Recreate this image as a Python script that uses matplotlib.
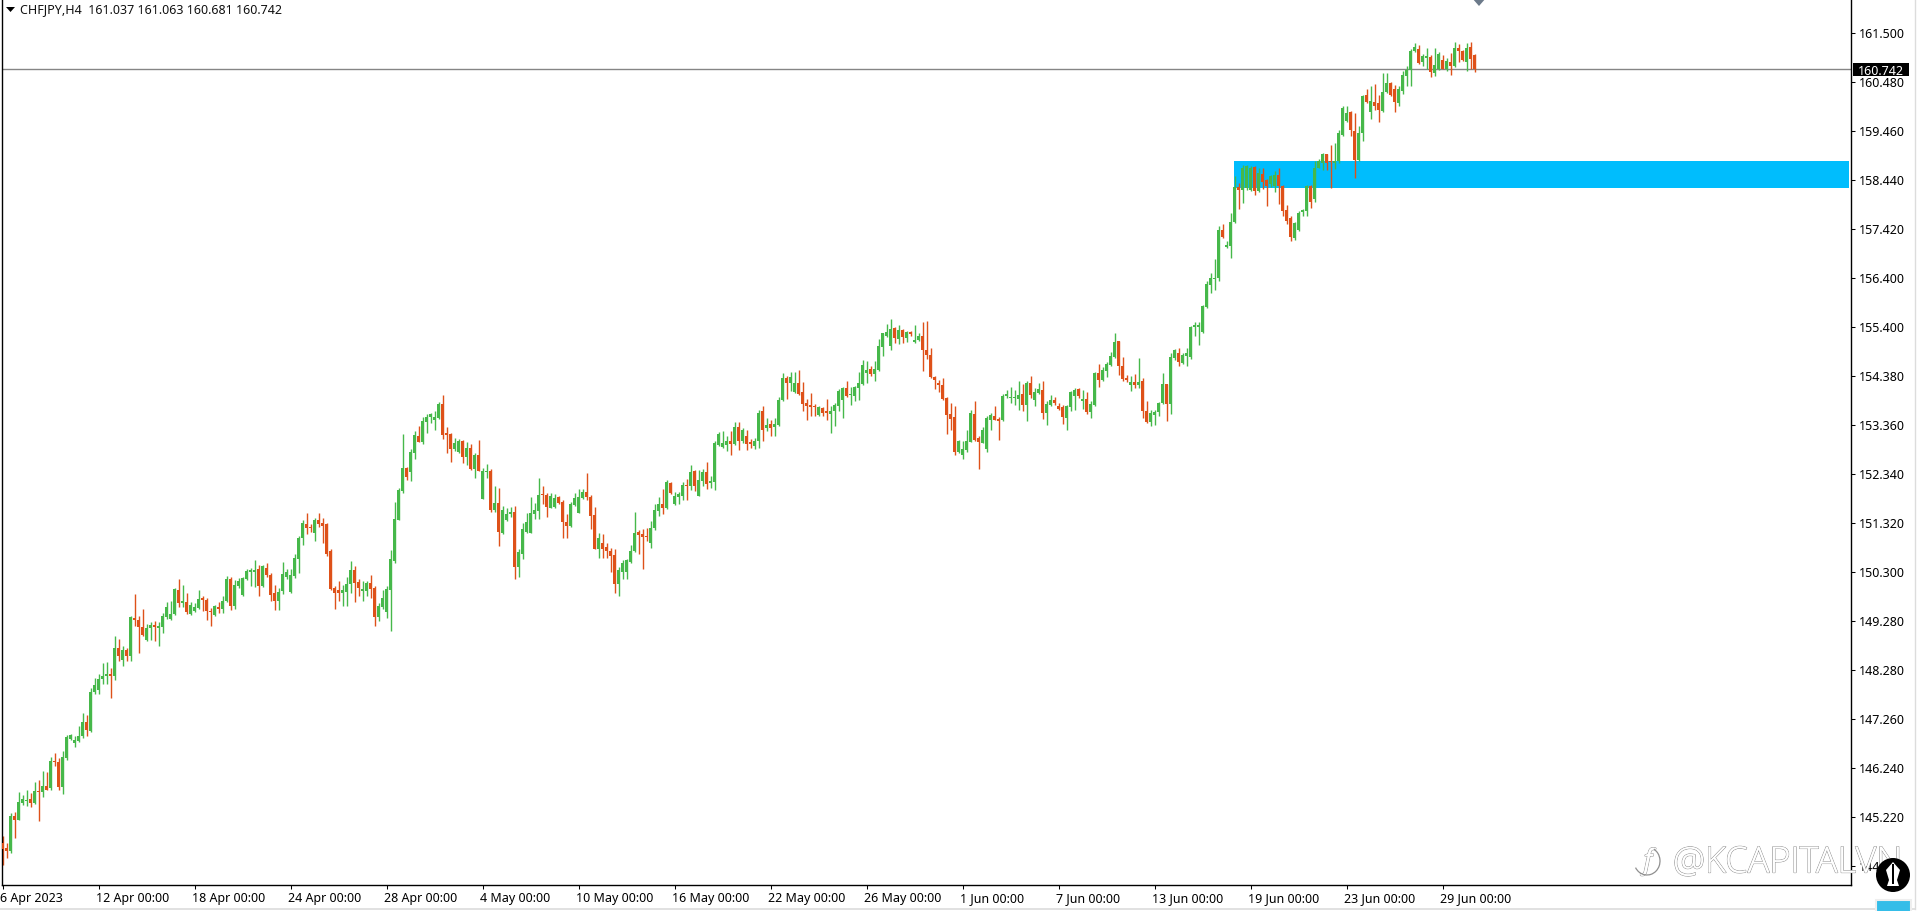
import numpy as np
import matplotlib
matplotlib.use("Agg")
import matplotlib.pyplot as plt
import matplotlib.patheffects as pe
from matplotlib.patches import Rectangle, Polygon, Circle, Arc
from matplotlib.transforms import ScaledTranslation

plt.rcParams['font.family'] = ['Noto Sans', 'DejaVu Sans']

symbol_title = "CHFJPY,H4  161.037 161.063 160.681 160.742"
current_price = 160.742
zone_low, zone_high = 158.28, 158.85
zone_start, zone_end = 307.8, 461.6

x_tick_labels = ["6 Apr 2023", "12 Apr 00:00", "18 Apr 00:00", "24 Apr 00:00", "28 Apr 00:00",
                 "4 May 00:00", "10 May 00:00", "16 May 00:00", "22 May 00:00", "26 May 00:00",
                 "1 Jun 00:00", "7 Jun 00:00", "13 Jun 00:00", "19 Jun 00:00", "23 Jun 00:00",
                 "29 Jun 00:00"]
x_tick_bars = [0, 24, 48, 72, 96, 120, 144, 168, 192, 216, 240, 264, 288, 312, 336, 360]

y_tick_pos = [161.49, 160.475, 159.46, 158.445, 157.43, 156.415, 155.40, 154.385, 153.37,
              152.355, 151.34, 150.325, 149.31, 148.295, 147.28, 146.265, 145.25, 144.235]
y_tick_labels = ["161.500", "160.480", "159.460", "158.440", "157.420", "156.400", "155.400",
                 "154.380", "153.360", "152.340", "151.320", "150.300", "149.280", "148.280",
                 "147.260", "146.240", "145.220", "144.200"]

opens = [
144.71,144.60,144.55,145.27,145.19,145.54,145.58,145.63,145.54,145.79,
145.76,145.88,145.85,146.41,146.39,145.86,146.47,146.87,146.79,146.83,
146.92,147.21,147.04,147.84,147.87,148.11,148.18,148.22,148.18,148.76,
148.51,148.71,148.58,149.37,149.34,149.18,148.92,149.16,149.23,149.16,
149.18,149.39,149.35,149.45,149.96,149.69,149.70,149.46,149.51,149.58,
149.78,149.75,149.52,149.44,149.61,149.56,149.72,150.17,149.63,150.03,
149.84,150.17,150.32,150.32,150.39,150.03,150.41,150.27,149.88,149.72,
149.93,150.23,149.91,150.24,150.59,151.02,151.33,151.25,151.14,151.40,
151.35,151.31,150.76,149.99,149.95,149.90,149.92,150.07,150.37,150.12,
149.93,149.93,150.09,150.00,149.40,149.59,149.50,149.95,150.55,151.40,
152.01,152.48,152.40,152.79,153.15,153.01,153.44,153.53,153.48,153.52,
153.80,153.20,153.18,152.87,152.81,153.04,152.71,152.89,152.45,152.74,
151.83,152.39,152.42,151.60,151.75,151.14,151.40,151.52,151.56,150.43,
150.69,151.16,151.14,151.52,151.59,151.94,151.92,151.66,151.68,151.87,
151.78,151.37,151.28,151.71,151.54,151.85,151.98,151.88,151.50,150.81,
150.93,150.84,150.77,150.67,150.07,150.33,150.33,150.53,150.76,151.16,
151.11,151.07,150.92,151.23,151.59,151.74,151.65,152.18,151.73,151.87,
151.89,152.13,152.10,152.42,151.91,152.22,152.39,152.16,152.20,152.96,
152.91,152.96,153.05,152.98,153.32,153.05,153.15,153.00,152.94,153.03,
153.66,153.30,153.40,153.32,153.38,153.88,154.34,154.24,154.05,154.24,
154.05,153.83,153.79,153.77,153.57,153.72,153.65,153.61,153.66,153.77,
153.88,154.14,153.99,153.98,154.14,154.22,154.44,154.53,154.42,154.52,
154.98,155.22,155.00,155.38,155.16,155.35,155.18,155.29,155.09,155.13,
155.22,154.93,154.83,154.37,154.23,154.21,153.93,153.59,153.53,152.81,
152.74,152.85,153.02,153.61,153.10,153.00,152.88,153.48,153.55,153.50,
153.47,153.97,153.93,153.93,153.92,154.02,153.79,154.24,153.88,154.04,
154.10,153.63,153.79,153.88,153.76,153.74,153.52,153.74,153.97,154.12,
153.87,153.91,153.64,153.78,154.44,154.31,154.50,154.61,154.78,155.11,
154.59,154.34,154.21,154.27,154.21,154.28,153.67,153.43,153.57,153.64,
153.82,154.23,153.80,154.76,154.87,154.66,154.80,154.78,155.41,155.41,
155.30,155.81,156.28,156.39,156.41,157.42,157.07,157.09,157.58,158.31,
158.25,158.29,158.25,158.72,158.22,158.58,158.45,158.36,158.32,158.56,
158.32,157.82,157.66,157.25,157.42,157.79,157.80,158.32,158.05,158.70,
158.81,158.98,158.83,158.81,158.84,159.39,159.68,159.86,159.46,158.87,
159.43,160.21,159.86,160.06,160.04,159.88,160.28,160.45,160.33,160.04,
160.30,160.60,160.73,161.12,161.16,160.89,160.98,161.00,160.67,160.74,
160.93,160.75,160.90,160.82,161.18,161.12,160.89,161.21,161.037]

closes = [
144.58,144.55,145.27,145.19,145.56,145.63,145.60,145.54,145.79,145.76,
145.88,145.81,146.41,146.38,145.86,146.49,146.90,146.94,146.85,146.93,
147.21,147.06,147.84,147.99,148.11,148.18,148.22,148.18,148.76,148.58,
148.71,148.58,149.39,149.32,149.18,149.01,149.16,149.23,149.18,149.20,
149.42,149.60,149.45,149.97,149.68,149.71,149.49,149.65,149.61,149.76,
149.74,149.51,149.49,149.63,149.56,149.72,150.17,149.63,150.06,150.13,
150.20,150.34,150.36,150.37,150.03,150.44,150.26,149.85,149.72,149.92,
150.28,150.33,150.26,150.62,151.03,151.35,151.23,151.23,151.40,151.33,
151.28,150.69,149.97,149.90,149.90,149.95,150.08,150.37,150.09,149.99,
149.97,150.09,149.98,149.39,149.62,149.79,149.98,150.59,151.42,152.02,
152.48,152.30,152.82,153.17,153.02,153.46,153.54,153.59,153.54,153.80,
153.17,153.17,152.87,152.99,153.03,152.71,152.89,152.45,152.75,152.42,
152.41,152.41,151.60,151.75,151.16,151.60,151.52,151.56,150.43,150.73,
151.21,151.37,151.54,151.60,151.93,151.92,151.67,151.90,151.85,151.75,
151.36,151.28,151.73,151.85,151.87,151.98,151.87,151.49,150.81,151.04,
150.81,150.76,150.66,150.07,150.37,150.52,150.57,150.77,151.14,151.09,
151.05,151.05,151.24,151.61,151.74,151.65,152.20,151.96,151.90,151.94,
152.13,152.10,152.40,152.11,152.24,152.39,152.15,152.22,153.00,153.19,
152.99,153.04,152.98,153.34,153.05,153.26,152.98,152.98,153.05,153.63,
153.26,153.38,153.31,153.40,153.90,154.34,154.24,154.37,154.24,154.01,
153.81,153.77,153.75,153.74,153.74,153.62,153.63,153.67,153.79,154.07,
154.14,153.98,154.00,154.16,154.24,154.62,154.52,154.42,154.54,155.00,
155.27,155.29,155.37,155.18,155.35,155.19,155.30,155.26,155.14,155.22,
154.92,154.83,154.36,154.30,154.21,153.91,153.57,153.50,152.81,153.03,
152.87,153.04,153.62,153.07,153.01,153.27,153.52,153.57,153.48,153.45,
153.97,154.01,153.95,153.95,154.00,153.79,154.24,154.00,154.06,154.12,
153.63,153.81,153.88,153.83,153.70,153.54,153.76,154.05,154.10,153.97,
153.91,153.64,153.80,154.44,154.30,154.52,154.63,154.80,155.10,154.59,
154.32,154.30,154.27,154.20,154.27,153.66,153.43,153.62,153.65,153.83,
154.23,153.80,154.78,154.92,154.67,154.83,154.87,155.41,155.43,155.43,
155.83,156.30,156.42,156.42,157.42,157.27,157.10,157.58,158.31,158.25,
158.70,158.74,158.70,158.22,158.60,158.40,158.33,158.53,158.56,158.32,
157.80,157.61,157.27,157.55,157.77,157.80,158.32,157.99,158.70,158.84,
158.98,158.81,158.82,158.84,159.43,159.95,159.84,159.48,158.86,159.43,
160.19,160.06,160.08,159.99,159.89,160.28,160.45,160.21,160.06,160.33,
160.62,160.73,161.12,161.20,160.88,161.02,160.99,160.69,160.84,161.07,
160.75,160.91,160.82,161.18,161.12,160.93,161.19,160.95,160.742]

highs = [
144.85,144.71,145.33,145.36,145.76,145.71,145.80,145.74,145.97,146.01,
146.21,146.18,146.50,146.57,146.47,146.61,146.95,146.97,146.93,147.13,
147.40,147.37,147.92,148.13,148.22,148.44,148.45,148.34,149.00,148.94,
148.80,148.75,149.42,149.87,149.41,149.56,149.25,149.28,149.30,149.29,
149.47,149.70,149.72,149.99,150.19,150.06,149.89,149.70,149.68,149.96,
149.83,149.79,149.58,149.65,149.70,149.83,150.25,150.22,150.15,150.20,
150.23,150.39,150.41,150.58,150.48,150.48,150.51,150.30,150.06,149.99,
150.53,150.38,150.38,150.69,151.07,151.40,151.54,151.33,151.45,151.54,
151.45,151.35,150.80,150.04,150.14,150.05,150.23,150.55,150.45,150.17,
150.14,150.14,150.26,150.04,149.69,149.95,150.04,150.78,151.78,152.07,
153.18,152.51,152.87,153.25,153.35,153.53,153.59,153.63,153.66,153.84,
153.99,153.32,153.21,153.11,153.09,153.06,153.01,152.97,152.79,153.06,
152.49,152.56,152.45,152.11,152.06,151.69,151.66,151.68,151.69,150.80,
151.35,151.54,151.87,151.76,152.28,152.11,151.97,151.97,151.94,151.90,
151.82,151.52,151.78,151.96,152.05,152.05,152.37,151.92,151.68,151.14,
151.11,150.93,150.83,150.80,150.42,150.57,150.59,150.88,151.56,151.20,
151.22,151.24,151.38,151.74,151.87,152.04,152.23,152.19,151.98,151.98,
152.20,152.25,152.55,152.43,152.43,152.46,152.60,152.31,153.03,153.22,
153.24,153.15,153.24,153.43,153.43,153.31,153.26,153.08,153.10,153.68,
153.76,153.52,153.48,153.52,153.95,154.45,154.38,154.48,154.48,154.52,
154.26,153.91,154.04,153.81,153.77,153.75,153.91,153.76,153.83,154.12,
154.16,154.29,154.16,154.19,154.48,154.71,154.69,154.59,154.70,155.16,
155.28,155.47,155.56,155.40,155.45,155.36,155.33,155.33,155.45,155.28,
155.51,155.53,154.97,154.39,154.31,154.35,153.95,153.83,153.77,153.07,
153.03,153.26,153.68,153.86,153.14,153.33,153.55,153.62,153.76,153.54,
154.02,154.09,154.16,154.10,154.29,154.23,154.28,154.39,154.14,154.24,
154.29,153.86,154.00,153.95,153.83,153.79,153.79,154.07,154.14,154.14,
154.09,154.06,153.87,154.47,154.63,154.58,154.67,154.88,155.27,155.12,
154.78,154.40,154.38,154.42,154.76,154.35,153.87,153.68,153.68,153.85,
154.44,154.23,154.87,154.95,154.97,154.87,154.97,155.42,155.50,155.50,
155.85,156.35,156.53,156.82,157.50,157.53,157.18,157.76,158.53,158.39,
158.77,158.76,158.74,158.74,158.70,158.70,158.46,158.55,158.63,158.70,
158.35,157.94,157.70,157.57,157.80,157.84,158.35,158.35,158.85,158.89,
159.00,158.99,159.18,159.21,159.48,159.99,159.98,159.88,159.84,159.57,
160.22,160.33,160.40,160.43,160.22,160.67,160.67,160.48,160.41,160.40,
160.71,160.81,161.16,161.29,161.24,161.07,161.18,161.05,161.19,161.10,
161.05,160.98,161.09,161.31,161.26,161.14,161.29,161.31,161.063]

lows = [
144.26,144.40,144.51,144.81,145.19,145.50,145.47,145.45,145.52,145.17,
145.67,145.80,145.80,146.30,145.80,145.73,146.43,146.85,146.69,146.81,
146.88,146.93,147.01,147.80,147.79,148.01,148.01,147.71,148.08,148.49,
148.38,148.49,148.49,149.20,148.65,149.00,148.89,148.92,148.90,148.80,
149.07,149.36,149.34,149.44,149.60,149.60,149.46,149.44,149.50,149.56,
149.51,149.34,149.20,149.42,149.47,149.47,149.70,149.54,149.56,149.99,
149.83,150.15,150.03,150.01,149.83,150.01,150.23,149.72,149.53,149.54,
149.86,150.19,149.90,150.21,150.31,150.89,151.11,151.16,150.97,151.25,
150.93,150.66,149.95,149.55,149.72,149.63,149.62,149.90,149.70,149.83,
149.72,149.83,149.79,149.21,149.31,149.55,149.38,149.10,150.52,151.40,
151.97,152.23,152.21,152.66,153.01,152.97,153.21,153.42,153.27,153.50,
153.08,152.80,152.61,152.83,152.80,152.59,152.54,152.43,152.28,152.41,
151.83,152.28,151.56,151.56,150.87,151.11,151.38,151.47,150.19,150.23,
150.59,151.14,151.13,151.42,151.42,151.73,151.47,151.66,151.66,151.73,
151.02,151.04,151.25,151.69,151.54,151.83,151.82,151.21,150.80,150.61,
150.62,150.62,150.33,149.90,149.83,150.19,150.19,150.52,150.73,150.69,
150.39,150.97,150.83,151.19,151.49,151.52,151.63,151.94,151.71,151.73,
151.82,151.82,152.03,152.00,151.91,152.11,152.05,152.07,152.03,152.94,
152.90,152.83,152.76,152.96,152.86,153.00,152.86,152.90,152.87,152.90,
153.03,153.24,153.15,153.15,153.36,153.86,153.91,154.07,154.04,154.00,
153.66,153.48,153.55,153.55,153.55,153.55,153.47,153.21,153.36,153.66,
153.52,153.95,153.79,153.86,153.88,154.21,154.24,154.39,154.28,154.50,
154.81,155.20,154.93,155.07,155.05,155.07,155.09,155.22,155.07,155.11,
154.50,154.73,154.35,154.12,154.05,153.88,153.19,153.27,152.76,152.79,
152.67,152.81,153.02,153.03,152.46,152.99,152.81,153.26,153.47,153.07,
153.45,153.93,153.83,153.79,153.69,153.67,153.45,153.93,153.76,154.02,
153.50,153.38,153.76,153.79,153.68,153.40,153.26,153.66,153.68,153.93,
153.71,153.59,153.52,153.76,154.16,154.28,154.37,154.59,154.76,154.40,
154.28,154.26,154.07,154.14,154.14,153.52,153.42,153.36,153.38,153.55,
153.80,153.45,153.61,154.72,154.59,154.63,154.60,154.73,155.21,155.04,
155.28,155.80,156.10,156.18,156.35,157.25,157.04,156.84,157.56,157.85,
157.98,158.25,158.22,158.13,158.20,158.27,157.92,158.30,158.20,157.96,
157.70,157.53,157.18,157.21,157.39,157.70,157.70,157.87,158.00,158.69,
158.66,158.66,158.29,158.67,158.80,159.37,159.66,159.36,158.49,158.84,
159.25,160.05,159.72,159.91,159.65,159.86,160.26,160.19,159.86,159.98,
160.24,160.40,160.40,161.11,160.86,160.81,160.75,160.58,160.60,160.73,
160.74,160.71,160.62,160.80,160.90,160.91,160.71,160.74,160.681]

GREEN = "#46b84a"
RED = "#de5119"
ZONE = "#00bdfd"

W, H = 1917, 911
fig = plt.figure(figsize=(W / 100, H / 100), dpi=100, facecolor="white")
ax = fig.add_axes([1.5 / W, 1 - 885 / H, (1851 - 1.5) / W, 885 / H])

o, c, hi, lo = map(np.array, (opens, closes, highs, lows))
idx = np.arange(len(o))
up = c >= o
colors = np.where(up, GREEN, RED)

ax.add_patch(Rectangle((zone_start, zone_low), zone_end - zone_start, zone_high - zone_low,
                       facecolor=ZONE, edgecolor="none", zorder=1))
ax.axhline(current_price, color="#858585", lw=1.0, zorder=1.5)
ax.vlines(idx, lo, hi, colors=colors, lw=1.0, zorder=2)
ax.bar(idx, np.maximum(np.abs(c - o), 0.03), bottom=np.minimum(o, c), width=0.9,
       color=colors, linewidth=0, zorder=3)

px_per_unit = 48.25
top_price = 162.18
ax.set_ylim(top_price - 885 / px_per_unit, top_price)
ax.set_xlim(-0.29, 462.08)

ax.yaxis.tick_right()
ax.set_yticks(y_tick_pos)
ax.set_yticklabels(y_tick_labels)
ax.set_xticks(x_tick_bars)
ax.set_xticklabels(x_tick_labels, ha="left")
ax.tick_params(axis="y", length=2.9, width=0.75, pad=2.5, labelsize=9, colors="black")
ax.tick_params(axis="x", length=2.9, width=0.75, pad=2.0, labelsize=9, colors="black")
shift = ScaledTranslation(-2.5 / 100, 0, fig.dpi_scale_trans)
for lab in ax.get_xticklabels():
    lab.set_transform(lab.get_transform() + shift)
for s in ("left", "bottom", "right"):
    ax.spines[s].set_linewidth(1.0)
    ax.spines[s].set_color("black")
ax.spines["top"].set_visible(False)

# overlay in pixel space for the terminal chrome
ov = fig.add_axes([0, 0, 1, 1], facecolor="none")
ov.set_xlim(0, W)
ov.set_ylim(H, 0)
ov.axis("off")

ov.add_patch(Polygon([[6, 7], [15, 7], [10.5, 12]], closed=True, facecolor="black", edgecolor="none"))
ov.text(20.5, 9.5, symbol_title, fontsize=9, va="center", ha="left", color="#111111")

ov.add_patch(Polygon([[1472, -2], [1486, -2], [1479, 6]], closed=True, facecolor="#6c7a8a", edgecolor="none"))

ov.add_patch(Rectangle((1853, 62.5), 56, 13, facecolor="black", edgecolor="none", zorder=5))
ov.text(1881, 70, "160.742", color="white", fontsize=9, va="center_baseline", ha="center", zorder=6)

# window edges
ov.plot([1915, 1915], [0, 909], color="#dcdcdc", lw=1)
ov.plot([0, 1915], [909, 909], color="#dcdcdc", lw=1.2)

# watermark
stroke = [pe.withStroke(linewidth=0.9, foreground="#8f8f8f"), pe.Normal()]
ov.text(1673, 863, "@KCAPITALVN", fontsize=26, color="white", va="center", ha="left",
        family=["Open Sans", "DejaVu Sans"], fontweight="light", path_effects=stroke, zorder=8)
ov.text(1648, 862, "f", fontsize=20, color="white", va="center", ha="center", style="italic",
        family=["Open Sans", "DejaVu Sans"], path_effects=stroke, zorder=8)
ov.add_patch(Arc((1647, 861), 26, 28, theta1=300, theta2=150, color="#8f8f8f", lw=0.9, zorder=8))

# logo
ov.add_patch(Circle((1893, 875), 17, facecolor="black", edgecolor="none", zorder=9))
ov.add_patch(Polygon([[1893, 862], [1900, 870], [1897, 880], [1899, 886], [1887, 886], [1889, 880], [1886, 870]],
                     closed=True, facecolor="white", edgecolor="none", zorder=10))
ov.add_patch(Polygon([[1892, 864], [1894, 864], [1894, 884], [1892, 884]], closed=True,
                     facecolor="black", edgecolor="none", zorder=11))
ov.add_patch(Rectangle((1876, 900), 35, 14, facecolor="#35bde8", edgecolor="#eeeeee", lw=1.5, zorder=9))

fig.savefig("out.png", dpi=100)
